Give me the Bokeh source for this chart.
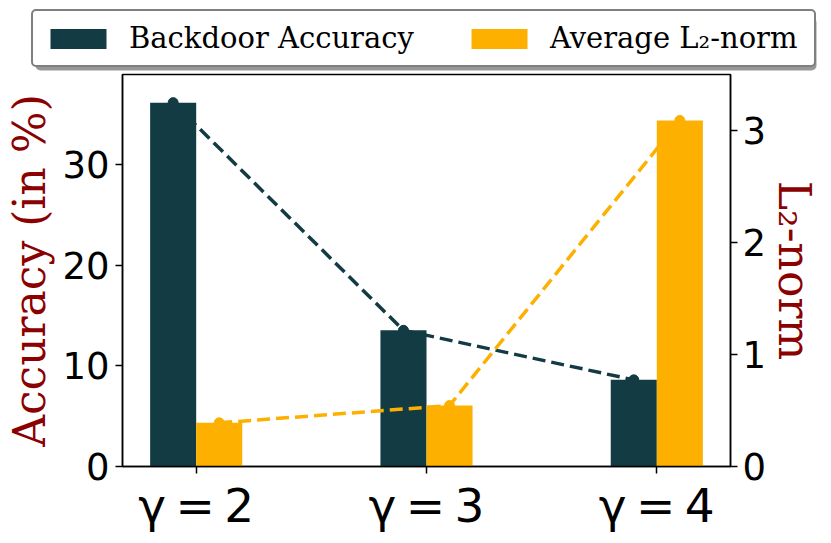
from bokeh.plotting import figure
from bokeh.layouts import column
from bokeh.models import Range1d, LinearAxis, Legend, LegendItem, FixedTicker, BoxAnnotation
from bokeh.embed import file_html
from bokeh.resources import INLINE

categories = ["γ\u2009=\u20092", "γ\u2009=\u20093", "γ\u2009=\u20094"]
backdoor_accuracy = [36.2, 13.55, 8.62]
avg_l2_norm = [0.39, 0.544, 3.09]
acc_ticks = [0, 10, 20, 30]
l2_ticks = [0, 1, 2, 3]
series_names = ["Backdoor Accuracy", "Average L₂-norm"]

DARK = "#123b43"
ORANGE = "#fdb000"
RED = "#8b0000"

W = 823
LEG_H = 71

xpos = list(range(len(categories)))
x_acc = [i - 0.1 for i in xpos]
x_l2 = [i + 0.1 for i in xpos]

# ---- legend strip (its own figure so the wide legend is not clipped) ----
pl = figure(width=W, height=LEG_H, output_backend="svg", toolbar_location=None,
            x_range=Range1d(0, W), y_range=Range1d(LEG_H, 0),
            x_axis_location=None, y_axis_location=None, min_border=0)
try:
    pl.frame_align = False
except Exception:
    pass
pl.grid.visible = False
pl.outline_line_color = None
pl.background_fill_color = "white"
pl.border_fill_color = "white"
# hidden proxies that only provide the legend swatches
leg_acc = pl.vbar(x=x_acc, top=backdoor_accuracy, width=0.2, fill_color=DARK, line_color=None, visible=False)
leg_l2 = pl.vbar(x=x_l2, top=avg_l2_norm, width=0.2, fill_color=ORANGE, line_color=None, visible=False)

shadow = BoxAnnotation(left=35, right=816, top=17, bottom=70,
                       fill_color="#8c8c8c", fill_alpha=0.9, line_color=None)
try:
    shadow.border_radius = 5
except Exception:
    pass
pl.add_layout(shadow)

legend = Legend(items=[LegendItem(label=series_names[0], renderers=[leg_acc]),
                       LegendItem(label=series_names[1], renderers=[leg_l2])],
                location=(31, 4), orientation="horizontal")
legend.label_text_font = "DejaVu Serif"
legend.label_text_font_size = "29px"
legend.label_text_color = "black"
legend.glyph_width = 70
legend.glyph_height = 25
legend.label_standoff = 16
legend.label_width = 254
legend.spacing = 50
legend.padding = 10
legend.margin = 0
legend.border_line_color = "black"
legend.border_line_width = 2
legend.background_fill_color = "white"
legend.background_fill_alpha = 1.0
try:
    legend.border_radius = 5
except Exception:
    pass
pl.add_layout(legend)

# ---- main chart ----
p = figure(width=W, height=535 - LEG_H, output_backend="svg", toolbar_location=None,
           x_range=Range1d(-0.32, 2.32), y_range=Range1d(0, 39),
           min_border_left=122, min_border_right=91, min_border_top=3, min_border_bottom=65)
try:
    p.frame_align = False
except Exception:
    pass
p.extra_y_ranges = {"l2": Range1d(0, 3.5)}
p.grid.visible = False
p.outline_line_color = "black"
p.outline_line_width = 1.5
p.background_fill_color = "white"
p.border_fill_color = "white"

acc_bars = p.vbar(x=x_acc, top=backdoor_accuracy, width=0.2, fill_color=DARK, line_color=None)
p.line(x_acc, backdoor_accuracy, line_color=DARK, line_width=3.5, line_dash="13 6")
p.scatter(x_acc, backdoor_accuracy, size=10, fill_color=DARK, line_color=DARK)

l2_bars = p.vbar(x=x_l2, top=avg_l2_norm, width=0.2, fill_color=ORANGE, line_color=None, y_range_name="l2")
p.line(x_l2, avg_l2_norm, line_color=ORANGE, line_width=3.5, line_dash="13 6", y_range_name="l2")
p.scatter(x_l2, avg_l2_norm, size=10, fill_color=ORANGE, line_color=ORANGE, y_range_name="l2")

def style_axis(ax, size):
    ax.axis_line_color = "black"
    ax.axis_line_width = 1.5
    ax.major_tick_line_color = "black"
    ax.major_tick_line_width = 1.5
    ax.major_tick_out = 7
    ax.major_tick_in = 0
    ax.minor_tick_line_color = None
    ax.major_label_text_font = "DejaVu Sans"
    ax.major_label_text_font_size = size
    ax.major_label_text_color = "black"

xa = p.xaxis[0]
xa.ticker = FixedTicker(ticks=xpos)
xa.major_label_overrides = {i: c for i, c in enumerate(categories)}
style_axis(xa, "47px")
xa.major_label_standoff = 4

ya = p.yaxis[0]
ya.ticker = FixedTicker(ticks=acc_ticks)
style_axis(ya, "37px")
ya.major_label_standoff = 6
ya.axis_label = "Accuracy (in %)"
ya.axis_label_text_font = "DejaVu Serif"
ya.axis_label_text_font_size = "44px"
ya.axis_label_text_font_style = "normal"
ya.axis_label_text_color = RED
ya.axis_label_standoff = 4

ra = LinearAxis(y_range_name="l2", ticker=FixedTicker(ticks=l2_ticks))
style_axis(ra, "37px")
ra.major_label_standoff = 5
ra.axis_label = "L₂-norm"
ra.axis_label_text_font = "DejaVu Serif"
ra.axis_label_text_font_size = "44px"
ra.axis_label_text_font_style = "normal"
ra.axis_label_text_color = RED
ra.axis_label_standoff = 0
p.add_layout(ra, "right")

layout = column(pl, p, spacing=0)
open("out.html", "w").write(file_html(layout, INLINE))
